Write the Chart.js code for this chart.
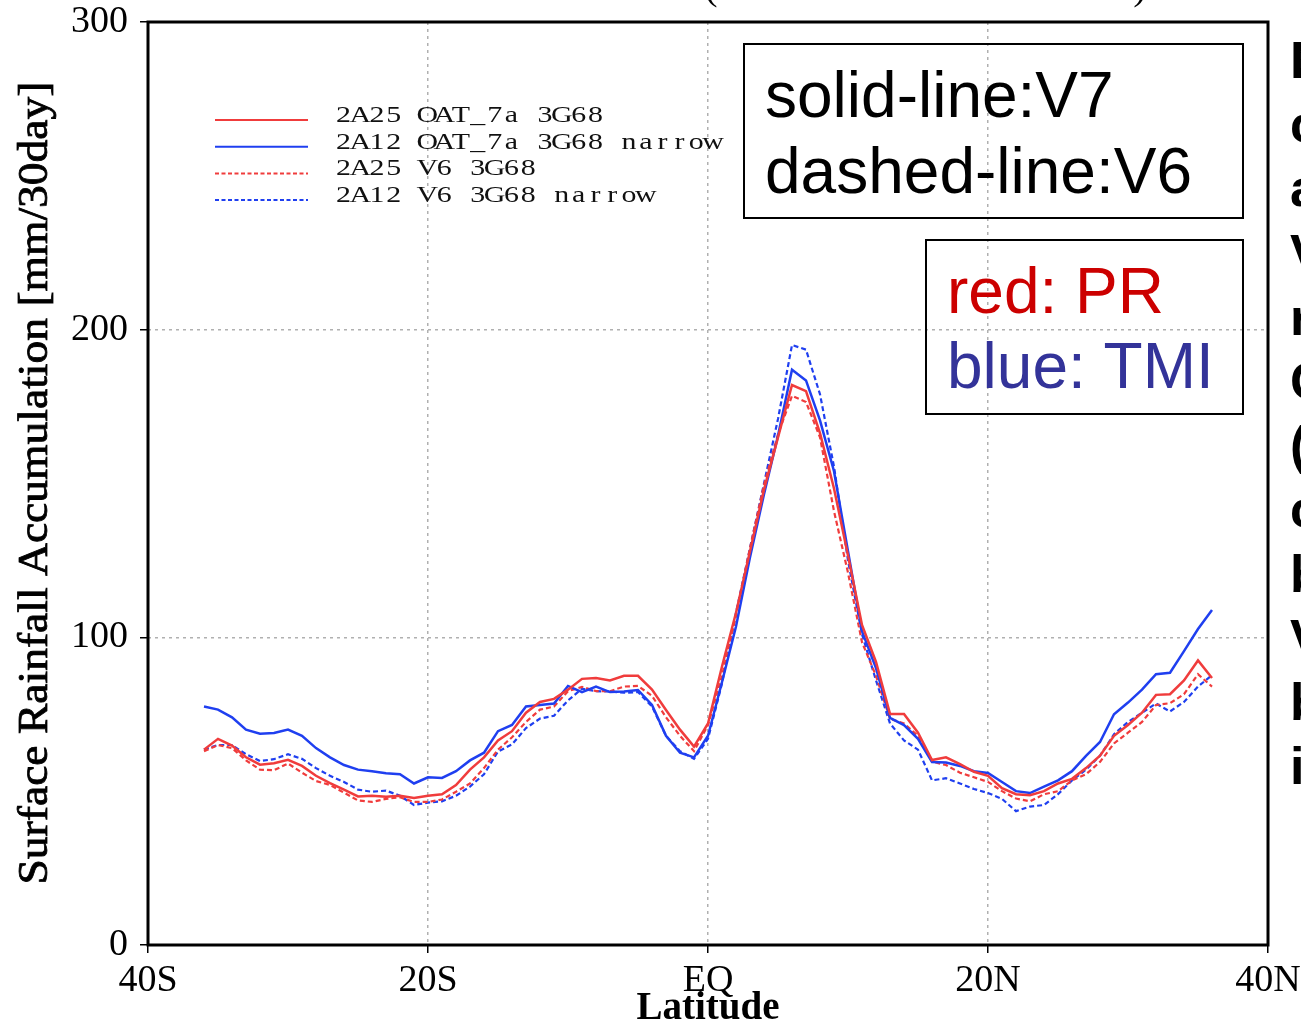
<!DOCTYPE html>
<html><head><meta charset="utf-8">
<script src="https://cdn.jsdelivr.net/npm/chart.js@4.4.0/dist/chart.umd.min.js"></script>
<style>html,body{margin:0;padding:0;background:#fff;overflow:hidden}</style>
</head><body>
<canvas id="c" width="1301" height="1022"></canvas>
<script>
const latitudes = [-36,-35,-34,-33,-32,-31,-30,-29,-28,-27,-26,-25,-24,-23,-22,-21,-20,-19,-18,-17,-16,-15,-14,-13,-12,-11,-10,-9,-8,-7,-6,-5,-4,-3,-2,-1,0,1,2,3,4,5,6,7,8,9,10,11,12,13,14,15,16,17,18,19,20,21,22,23,24,25,26,27,28,29,30,31,32,33,34,35,36];

const pr_v7 = [63.5,67,64.8,61,58.6,59.1,60.2,58.2,55,52.6, 50.5,48.3,48.5,48.2,48.5,47.8,48.5,49,52,57, 61,66.5,69.5,75.5,79,80,83,86.5,86.8,86, 87.5,87.5,83,76.4,70,64.5,72,90.5,108,128, 148,165,182,180,166.4,148.4,126.6,104,92,75.1, 75.1,69,60.1,61,58.8,56.3,55,51,49,48.7, 50,52.5,54,57.5,61.5,68,71.5,75.5,81.3,81.5, 86,92.5,86.8];
const tmi_v7 = [77.5,76.5,74,70,68.7,68.9,70,68,64,61, 58.5,57,56.5,55.8,55.5,52.5,54.5,54.3,56.5,60, 62.5,69.5,71.5,77.5,78,78.5,84.2,82.2,84,82.2, 82.4,82.9,78,68,62.5,61,68,85.5,103.5,126, 146.5,165.5,187,183.5,170.5,154,128,102,90,73.8, 71.5,67,59.5,59.3,58.2,56.5,55.9,53,50,49.4, 51.5,53.5,56.5,61.5,66,75,78.8,83,88,88.5, 95.5,102.7,108.9];
const pr_v6 = [63,65,64,60,57,56.8,59,56,53.3,52, 49.5,47,46.5,47.5,48,46.5,46.5,47.3,49.8,52.5, 57.5,63.5,67.5,72.5,76.5,77.5,82.5,83.9,82.5,82.5, 84,84.2,81,74,68,63,71.5,87.5,107,129, 149.5,166,178.5,176.5,165,141,121,98.4,87.5,73.5, 72,68,59.6,58.5,56,54.5,53,50,47.6,46.7, 49,50,53.5,55.5,59.5,65.5,69,72.5,78,78.6, 81.5,88,84];
const tmi_v6 = [63.5,65,65,62,59.8,60.4,62,60.5,57.5,55, 53,50.5,49.8,50.2,48.5,45.5,46.3,46.7,48.5,51.5, 55.5,62.9,65.2,70.5,73.6,74.5,79.5,83.3,82.5,82.4, 82,82.2,77.5,68,63,60.5,67,85,108,129, 150,171,195,193.5,179,155.5,125,101,86,72, 66.5,63.5,53.5,54.2,52.5,50.7,49.4,47.5,43.5,45, 45.5,49,53.5,57,61.5,68.5,72.5,75.5,78.5,75.9, 79,84,87.7];

const seriesLabels = ['2A25 OAT_7a 3G68','2A12 OAT_7a 3G68 narrow','2A25 V6 3G68','2A12 V6 3G68 narrow'];
const xTickValues = [-40,-20,0,20,40];
const xTickLabels = ['40S','20S','EQ','20N','40N'];
const yTickValues = [0,100,200,300];
const xTitle = 'Latitude';
const yTitle = 'Surface Rainfall Accumulation [mm/30day]';
const box1Lines = ['solid-line:V7','dashed-line:V6'];
const box2Lines = ['red: PR','blue: TMI'];
const sideLetters = ['D','c','a','V','r','C','(','c','b','V','b','i'];

const RED = '#f03c3c', BLUE = '#1f3ff0';
const pts = arr => arr.map((v,i)=>({x:latitudes[i], y:v}));

const datasets = [
  {label:seriesLabels[0], data:pts(pr_v7), borderColor:RED, borderWidth:2.5, borderDash:[]},
  {label:seriesLabels[1], data:pts(tmi_v7), borderColor:BLUE, borderWidth:2.5, borderDash:[]},
  {label:seriesLabels[2], data:pts(pr_v6), borderColor:RED, borderWidth:2.2, borderDash:[5,3]},
  {label:seriesLabels[3], data:pts(tmi_v6), borderColor:BLUE, borderWidth:2.2, borderDash:[5,3]}
].map(d=>Object.assign(d,{pointRadius:0, tension:0, fill:false}));

const overlay = {
  id:'overlay',
  beforeDraw(chart){
    const ctx = chart.ctx;
    ctx.save(); ctx.fillStyle='#fff'; ctx.fillRect(0,0,chart.width,chart.height); ctx.restore();
  },
  afterDraw(chart){
    const ctx = chart.ctx, a = chart.chartArea;
    ctx.save();
    // frame
    ctx.strokeStyle='#000'; ctx.lineWidth=3; ctx.setLineDash([]);
    ctx.strokeRect(a.left, a.top, a.right-a.left, a.bottom-a.top);

    // legend (GrADS style)
    ctx.fillStyle='#111';
    chart.data.datasets.forEach((ds,i)=>{
      const y = 120 + 26.7*i;
      ctx.save();
      ctx.strokeStyle = ds.borderColor; ctx.lineWidth = 2;
      ctx.setLineDash(ds.borderDash.length ? [4,2.5] : []);
      ctx.beginPath(); ctx.moveTo(215,y); ctx.lineTo(308,y); ctx.stroke();
      ctx.restore();
      ctx.font = '23px "Liberation Serif"';
      ctx.textAlign='center'; ctx.textBaseline='alphabetic';
      const s = ds.label;
      for (let k=0;k<s.length;k++){
        ctx.save();
        ctx.translate(335 + 16.8*(k+0.5), y+2);
        ctx.scale(1.3,1);
        ctx.fillText(s[k],0,0);
        ctx.restore();
      }
    });

    // axis titles
    ctx.fillStyle='#000';
    ctx.font='bold 39px "Liberation Serif"';
    ctx.textAlign='center'; ctx.textBaseline='alphabetic';
    ctx.fillText(xTitle, 708, 1019);
    ctx.save();
    ctx.translate(47, 483); ctx.rotate(-Math.PI/2);
    ctx.font='42px "Liberation Serif"';
    const w = ctx.measureText(yTitle).width;
    ctx.scale(803 / w, 1);
    ctx.lineWidth = 0.8; ctx.strokeStyle = '#000';
    ctx.fillText(yTitle, 0, 0);
    ctx.strokeText(yTitle, 0, 0);
    ctx.restore();

    // title fragments
    ctx.font='40px "Liberation Serif"';
    ctx.fillText('(', 711, -1);
    ctx.fillText(')', 1140, -1);

    // text boxes
    ctx.lineWidth=2; ctx.strokeStyle='#000';
    ctx.strokeRect(744,44,499,174);
    ctx.strokeRect(926,240,317,174);
    ctx.textAlign='left';
    ctx.font='64px "Liberation Sans"';
    ctx.fillStyle='#000';
    ctx.fillText(box1Lines[0], 765, 117);
    ctx.fillText(box1Lines[1], 765, 193);
    ctx.fillStyle='#cc0000';
    ctx.fillText(box2Lines[0], 947, 313);
    ctx.fillStyle='#333399';
    ctx.fillText(box2Lines[1], 947, 388);

    // cut-off side text
    ctx.fillStyle='#000';
    ctx.font='bold 52px "Liberation Sans"';
    sideLetters.forEach((ch,i)=> ctx.fillText(ch, 1290, 78 + 64.2*i));
    ctx.restore();
  }
};

const gridCommon = {color:'#b0b0b0', lineWidth:1.5, drawTicks:true, tickLength:8, tickColor:'#000', tickWidth:1.5, tickBorderDash:[]};
const zeroPad = s => { s.paddingLeft = 0; s.paddingRight = 0; s.paddingTop = 0; s.paddingBottom = 0; };

new Chart(document.getElementById('c'), {
  type:'line',
  data:{datasets},
  plugins:[overlay],
  options:{
    responsive:false, animation:false, devicePixelRatio:1,
    layout:{padding:{top:22,right:33,left:0,bottom:0}},
    plugins:{legend:{display:false}, tooltip:{enabled:false}, title:{display:false}},
    scales:{
      x:{type:'linear', min:-40, max:40,
        afterBuildTicks(s){ s.ticks = xTickValues.map(v=>({value:v})); },
        afterFit(s){ s.height = 77; zeroPad(s); },
        ticks:{callback:(v)=>xTickLabels[xTickValues.indexOf(v)], font:{family:'Liberation Serif', size:38}, color:'#000', padding:5, maxRotation:0, autoSkip:false},
        grid:gridCommon,
        border:{display:false, dash:[3,4]}
      },
      y:{type:'linear', min:0, max:300,
        afterBuildTicks(s){ s.ticks = yTickValues.map(v=>({value:v})); },
        afterFit(s){ s.width = 148; zeroPad(s); },
        ticks:{font:{family:'Liberation Serif', size:38}, color:'#000', padding:12},
        grid:gridCommon,
        border:{display:false, dash:[3,4]}
      }
    }
  }
});
</script>
</body></html>
